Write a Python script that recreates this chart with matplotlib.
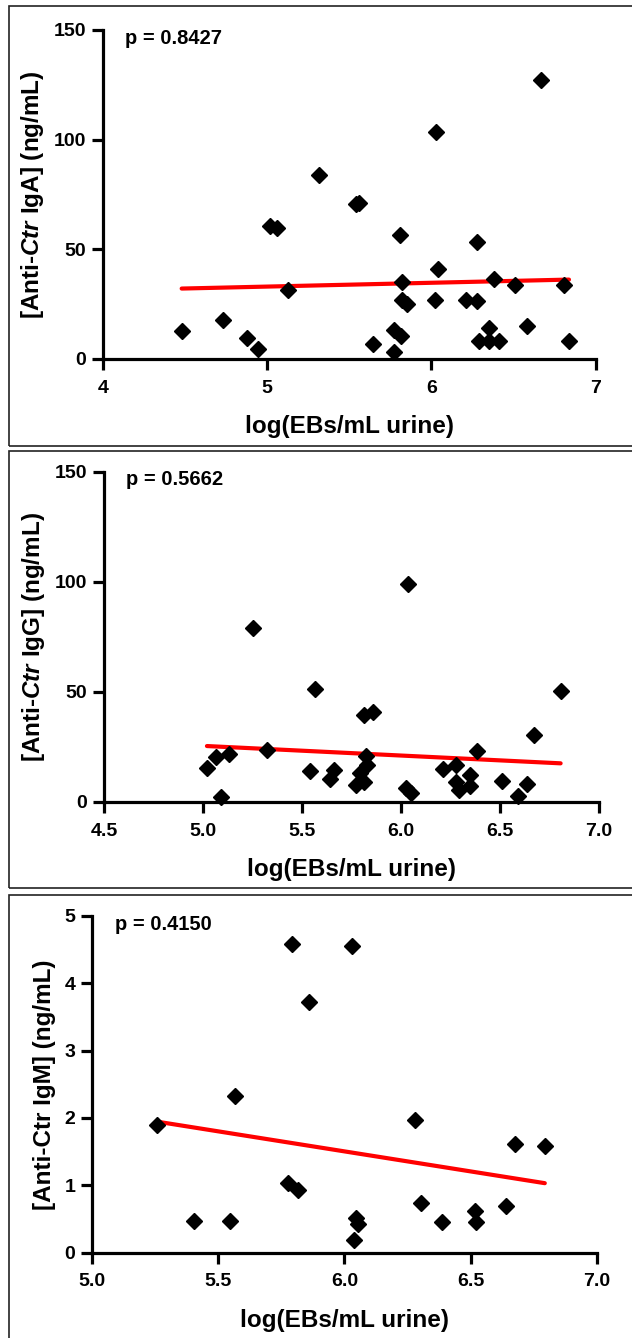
import numpy as np
import matplotlib
matplotlib.use('Agg')
import matplotlib.pyplot as plt
from matplotlib.patches import Rectangle

plt.rcParams['font.family'] = ['Liberation Sans', 'DejaVu Sans']
plt.rcParams['font.weight'] = 'bold'
plt.rcParams['mathtext.fontset'] = 'custom'
plt.rcParams['mathtext.rm'] = 'Liberation Sans:bold'
plt.rcParams['mathtext.it'] = 'Liberation Sans:bold:italic'

# IgA panel
iga_x = [4.479, 4.728, 4.875, 4.944, 5.018, 5.060, 5.124, 5.318, 5.539, 5.556,
         5.645, 5.773, 5.773, 5.815, 5.810, 5.820, 5.822, 5.851, 6.031, 6.043,
         6.021, 6.208, 6.275, 6.275, 6.289, 6.348, 6.348, 6.412, 6.383, 6.508,
         6.584, 6.668, 6.806, 6.838]
iga_y = [12.9, 17.9, 9.4, 4.6, 60.8, 59.9, 31.6, 83.9, 70.7, 71.1,
         6.8, 3.0, 13.2, 10.5, 56.4, 35.3, 26.9, 24.9, 103.6, 40.9,
         26.9, 26.9, 53.2, 26.6, 8.1, 14.3, 8.1, 8.1, 36.6, 33.7,
         15.0, 127.2, 33.7, 8.4]
iga_fit = (1.734, 24.34)   # slope, intercept

# IgG panel
igg_x = [5.020, 5.064, 5.091, 5.130, 5.254, 5.321, 5.543, 5.564, 5.643, 5.663,
         5.771, 5.794, 5.812, 5.814, 5.824, 5.828, 5.859, 6.036, 6.028, 6.052,
         6.212, 6.277, 6.277, 6.295, 6.350, 6.350, 6.385, 6.511, 6.593, 6.636,
         6.674, 6.807]
igg_y = [15.5, 20.5, 2.0, 21.8, 78.9, 23.5, 13.9, 51.1, 10.3, 14.4,
         7.6, 13.2, 9.1, 39.4, 20.9, 16.7, 40.8, 98.8, 6.1, 3.8,
         14.7, 16.5, 9.1, 5.3, 12.1, 7.1, 23.2, 9.4, 2.7, 7.9,
         30.3, 50.5]
igg_fit = (-4.396, 47.37)

# IgM panel
igm_x = [5.259, 5.406, 5.545, 5.566, 5.775, 5.815, 5.792, 5.858, 6.030, 6.046,
         6.054, 6.038, 6.281, 6.302, 6.388, 6.518, 6.522, 6.642, 6.676, 6.794]
igm_y = [1.90, 0.47, 0.47, 2.33, 1.03, 0.93, 4.58, 3.72, 4.56, 0.52,
         0.43, 0.19, 1.97, 0.73, 0.46, 0.62, 0.45, 0.69, 1.61, 1.59]
igm_fit = (-0.595, 5.074)

panels = [
    dict(x=iga_x, y=iga_y, fit=iga_fit, p='p = 0.8427',
         ylabel='[Anti-$\\mathit{Ctr}$ IgA] (ng/mL)',
         xlim=(4, 7), xticks=[4, 5, 6, 7], xfmt='{:.0f}',
         ylim=(0, 150), yticks=[0, 50, 100, 150],
         rect=[0.163, 0.7317, 0.7794, 0.2459], frame=(6, 446)),
    dict(x=igg_x, y=igg_y, fit=igg_fit, p='p = 0.5662',
         ylabel='[Anti-$\\mathit{Ctr}$ IgG] (ng/mL)',
         xlim=(4.5, 7), xticks=[4.5, 5.0, 5.5, 6.0, 6.5, 7.0], xfmt='{:.1f}',
         ylim=(0, 150), yticks=[0, 50, 100, 150],
         rect=[0.1646, 0.4008, 0.7829, 0.2467], frame=(451, 888)),
    dict(x=igm_x, y=igm_y, fit=igm_fit, p='p = 0.4150',
         ylabel='[Anti-Ctr IgM] (ng/mL)',
         xlim=(5, 7), xticks=[5.0, 5.5, 6.0, 6.5, 7.0], xfmt='{:.1f}',
         ylim=(0, 5), yticks=[0, 1, 2, 3, 4, 5],
         rect=[0.1456, 0.0638, 0.7987, 0.2516], frame=(895, 1345)),
]

W, H = 632, 1338
fig = plt.figure(figsize=(W / 100, H / 100), dpi=100)

for pn in panels:
    top, bot = pn['frame']
    fig.patches.append(Rectangle((9 / W, 1 - bot / H), 1.2, (bot - top) / H,
                                 transform=fig.transFigure, fill=False,
                                 edgecolor='#222222', lw=1.2))

    ax = fig.add_axes(pn['rect'])
    x = np.array(pn['x'])
    y = np.array(pn['y'])
    slope, icpt = pn['fit']
    lx = np.array([x.min(), x.max()])
    ax.plot(lx, slope * lx + icpt, color='#ff0000', lw=3, solid_capstyle='round', zorder=2)
    ax.plot(x, y, linestyle='none', marker='D', ms=8, color='black', clip_on=False, zorder=3)

    ax.set_xlim(*pn['xlim'])
    ax.set_ylim(*pn['ylim'])
    ax.set_xticks(pn['xticks'])
    ax.set_xticklabels([pn['xfmt'].format(v) for v in pn['xticks']])
    ax.set_yticks(pn['yticks'])
    for s in ['top', 'right']:
        ax.spines[s].set_visible(False)
    for s in ['left', 'bottom']:
        ax.spines[s].set_linewidth(2.3)
    ax.tick_params(width=2.3, length=8, labelsize=14, pad=4)
    ax.tick_params(axis='x', pad=7)
    for lab in ax.get_xticklabels() + ax.get_yticklabels():
        lab.set_fontweight('bold')

    ax.set_xlabel('log(EBs/mL urine)', fontsize=17.5, fontweight='bold', labelpad=13)
    ax.set_ylabel(pn['ylabel'], fontsize=17.5, fontweight='bold', labelpad=6)
    ax.text(0.045, 0.975, pn['p'], transform=ax.transAxes, fontsize=14.5,
            fontweight='bold', ha='left', va='center')

fig.savefig('out.png', dpi=100)
